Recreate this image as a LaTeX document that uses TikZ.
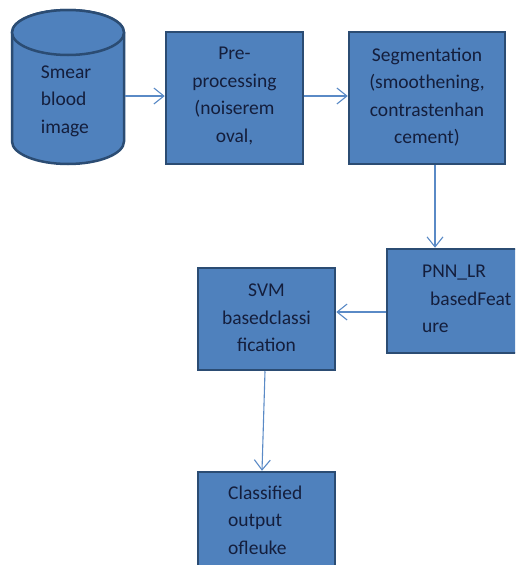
\documentclass[tikz,border=0pt]{standalone}
\usepackage{fontspec}
\setmainfont{Carlito}
\usetikzlibrary{arrows.meta}
\definecolor{boxfill}{HTML}{4F81BD}
\definecolor{boxline}{HTML}{2B4C73}
\definecolor{arrcol}{HTML}{5A8AC6}
\definecolor{txtcol}{HTML}{141E3C}
\tikzset{
  box/.style={draw=boxline, fill=boxfill, line width=2.5pt, rectangle, inner sep=0pt},
  txt/.style={text=txtcol, font=\fontsize{19.5}{27.5}\selectfont, inner sep=0pt},
  arr/.style={draw=arrcol, line width=1.1pt, -{Straight Barb[length=10pt,width=16pt,line width=1.1pt]}}
}
\begin{document}
\begin{tikzpicture}[x=1pt,y=-1pt]
\useasboundingbox (0,0) rectangle (515,565);
\clip (0,0) rectangle (515,565);
% cylinder
\path[fill=boxfill, draw=boxline, line width=2.5pt]
  (12,32.5) -- (12,141.5) arc[start angle=180, end angle=360, x radius=56pt, y radius=22.5pt] -- (124,32.5) arc[start angle=0, end angle=180, x radius=56pt, y radius=22.5pt] -- cycle;
\draw[fill=boxfill, draw=boxline, line width=2.5pt] (68,32.5) ellipse[x radius=56pt, y radius=22.5pt];
\node[minimum width=112pt, minimum height=2pt, inner sep=0pt, outer sep=1.25pt] (cyl) at (68,96) {};
\node[txt, align=left] (cyltxt) at (66,101) {Smear\\blood\\image};
% boxes
\node[box, minimum width=137pt, minimum height=132pt] (pre) at (234.5,98) {};
\node[txt, align=center] (pretxt) at (234.5,96) {Pre-\\processing\\(noiserem\\oval,};
\node[box, minimum width=156pt, minimum height=132pt] (seg) at (427,98) {};
\node[txt, align=center] (segtxt) at (427,97) {Segmentation\\(smoothening,\\contrastenhan\\cement)};
\node[box, minimum width=138pt, minimum height=104pt] (pnn) at (456,301) {};
\node[txt, align=left, anchor=west] (pnntxt) at (422,299) {PNN\_LR\\\hspace*{8pt}basedFeat\\ure};
\node[box, minimum width=137pt, minimum height=102pt] (svm) at (266.5,319) {};
\node[txt, align=center] (svmtxt) at (266.5,318) {SVM\\basedclassi\\fication};
\node[box, minimum width=137pt, minimum height=128pt] (out) at (266.5,536) {};
\node[txt, align=left, anchor=west] (outtxt) at (228,520) {Classified\\output\\ofleuke};
% arrows
\draw[arr] (cyl.east) -- (cyl.east -| pre.west);
\draw[arr] (pre.east |- cyl.east) -- (seg.west |- cyl.east);
\draw[arr] ([xshift=8pt]seg.south) -- ([xshift=8pt]seg.south |- pnn.north);
\draw[arr] ([yshift=-11pt]pnn.west) -- ([yshift=-11pt]pnn.west -| svm.east);
\draw[arr] ([xshift=-1.5pt]svm.south) -- ([xshift=-4.5pt]out.north);
\end{tikzpicture}
\end{document}
